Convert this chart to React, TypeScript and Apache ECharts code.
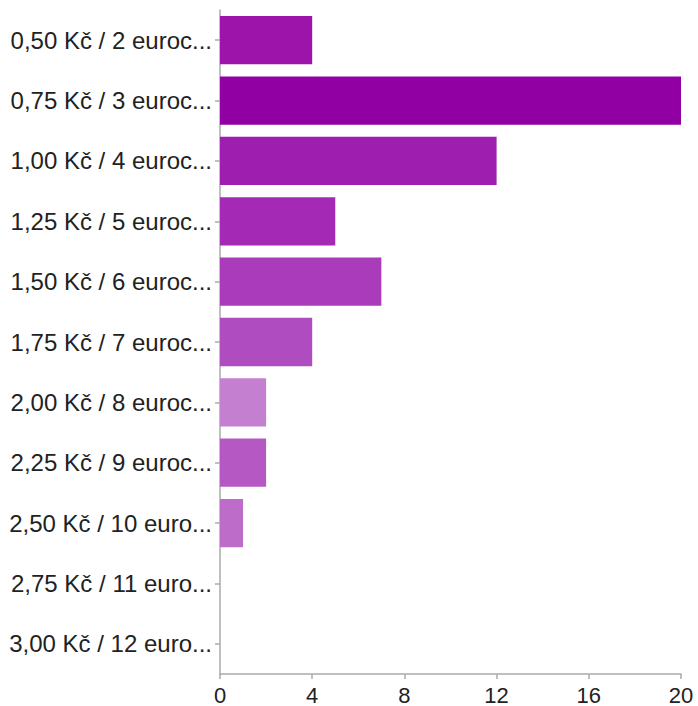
import React, { useEffect, useRef } from "react";
import * as echarts from "echarts";

const categories = [
  "0,50 Kč / 2 euroc...",
  "0,75 Kč / 3 euroc...",
  "1,00 Kč / 4 euroc...",
  "1,25 Kč / 5 euroc...",
  "1,50 Kč / 6 euroc...",
  "1,75 Kč / 7 euroc...",
  "2,00 Kč / 8 euroc...",
  "2,25 Kč / 9 euroc...",
  "2,50 Kč / 10 euro...",
  "2,75 Kč / 11 euro...",
  "3,00 Kč / 12 euro...",
];
const values = [4, 20, 12, 5, 7, 4, 2, 2, 1, 0, 0];
const barColors = [
  "#9c14a9",
  "#9100a3",
  "#9e1eaf",
  "#a42ab5",
  "#aa3bbb",
  "#af4cbf",
  "#c47fd0",
  "#b558c4",
  "#bd6cca",
  "#c47fd0",
  "#c47fd0",
];
const xTicks = { min: 0, max: 20, interval: 4 };

export default function App() {
  const ref = useRef<HTMLDivElement>(null);
  useEffect(() => {
    if (!ref.current) return;
    const chart = echarts.init(ref.current, undefined, { renderer: "svg" });
    chart.setOption({
      animation: false,
      backgroundColor: "#ffffff",
      textStyle: { fontFamily: "Liberation Sans, Arial, sans-serif" },
      grid: { left: 220, right: 17, top: 10, bottom: 31, containLabel: false },
      xAxis: {
        type: "value",
        min: xTicks.min,
        max: xTicks.max,
        interval: xTicks.interval,
        axisLine: { show: true, lineStyle: { color: "#aaaaaa", width: 1.5 } },
        axisTick: { show: true, inside: false, length: 5, lineStyle: { color: "#aaaaaa", width: 1.5 } },
        splitLine: { show: false },
        axisLabel: { color: "#222222", fontSize: 22, margin: 10 },
      },
      yAxis: {
        type: "category",
        inverse: true,
        data: categories,
        axisLine: { show: true, lineStyle: { color: "#aaaaaa", width: 1.5 } },
        axisTick: { show: true, alignWithLabel: true, length: 5, lineStyle: { color: "#aaaaaa", width: 1.5 } },
        axisLabel: { color: "#222222", fontSize: 24, margin: 8 },
      },
      series: [
        {
          type: "bar",
          data: values.map((v, i) => ({ value: v, itemStyle: { color: barColors[i] } })),
          barCategoryGap: "20%",
        },
      ],
    });
    return () => chart.dispose();
  }, []);
  return (
    <div
      ref={ref}
      style={{ position: "fixed", left: 0, top: 0, width: 698, height: 706, background: "#fff" }}
    />
  );
}
